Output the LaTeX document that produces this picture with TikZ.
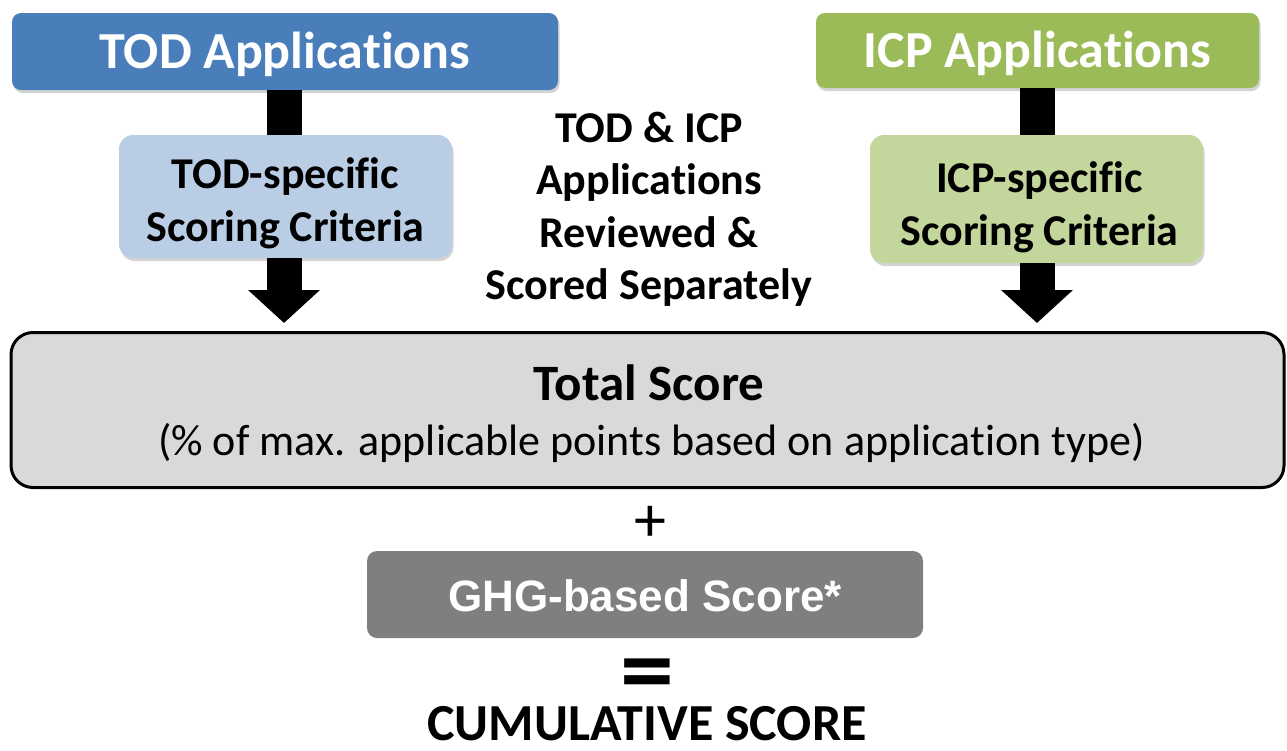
\documentclass[tikz,border=0pt]{standalone}
\usepackage{fontspec}
\setmainfont[Ligatures=NoCommon]{Carlito}
\newfontfamily\arialfont{Liberation Sans}
\usetikzlibrary{arrows.meta,shadows}
\definecolor{todblue}{HTML}{4A7EBB}
\definecolor{todlight}{HTML}{B9CDE5}
\definecolor{icpgreen}{HTML}{9BBB59}
\definecolor{icplight}{HTML}{C3D69B}
\definecolor{totalgray}{HTML}{D9D9D9}
\definecolor{ghggray}{HTML}{7F7F7F}
\tikzset{
  plain/.style={inner sep=0pt, outer sep=0pt},
  boxshadow/.style={drop shadow={shadow xshift=1.5pt, shadow yshift=-3pt, opacity=0.35}},
  hdrbox/.style={plain, boxshadow, rounded corners=9pt, text=white,
    font=\bfseries\fontsize{52}{56}\selectfont, text height=36pt, text depth=3pt},
  critbox/.style={plain, boxshadow, rounded corners=14pt, align=center,
    font=\bfseries\fontsize{44}{53}\selectfont},
  bar/.style={line width=35pt},
  bigarrow/.style={line width=35pt, -{Triangle[width=70pt,length=33pt]}}
}
\begin{document}
\begin{tikzpicture}[x=1pt,y=-1pt]
\useasboundingbox (0,0) rectangle (1287,750);
% header boxes
\node[hdrbox, fill=todblue, minimum width=546pt, minimum height=77pt] (tod) at (285,51.5) {TOD Applications};
\node[hdrbox, fill=icpgreen, minimum width=443pt, minimum height=75pt] (icp) at (1037.5,50.5) {ICP Applications};
% criteria boxes
\node[critbox, fill=todlight, minimum width=333pt, minimum height=123pt, text height=92pt, text depth=3pt] (todc) at (285.5,196.5) {TOD-specific\\Scoring Criteria};
\node[critbox, fill=icplight, minimum width=333pt, minimum height=128pt, text height=95pt, text depth=3pt] (icpc) at (1036.5,199) {\hspace*{6pt}ICP-specific\\\hspace*{6pt}Scoring Criteria};
% total box
\node[plain, draw=black, line width=3pt, fill=totalgray, rounded corners=22pt, minimum width=1273pt, minimum height=155pt] (total) at (647.5,410) {};
\node[plain, anchor=base, font=\bfseries\fontsize{51}{56}\selectfont] (tt) at (649,400) {Total Score};
\node[plain, anchor=base, font=\fontsize{44}{50}\selectfont] (ts) at (651.5,455) {(\% of max. applicable points based on application type)};
% middle text
\node[plain, font=\bfseries\fontsize{44}{52.5}\selectfont, align=center] (mid) at (649,209.5) {TOD \& ICP\\Applications\\Reviewed \&\\Scored Separately};
% bars and arrows
\coordinate (ta) at (284,323);
\coordinate (ia) at (1037,323);
\draw[bar] (tod.south -| ta) -- (todc.north -| ta);
\draw[bar] (icp.south -| ia) -- (icpc.north -| ia);
\draw[bigarrow] (todc.south -| ta) -- (ta);
\draw[bigarrow] (icpc.south -| ia) -- (ia);
% plus
\node[plain, font=\fontsize{64}{66}\selectfont] (plus) at (650,524) {+};
% GHG
\node[plain, fill=ghggray, rounded corners=10pt, minimum width=556pt, minimum height=87pt,
  text=white, font=\arialfont\bfseries\fontsize{44}{48}\selectfont, text height=36pt, text depth=3pt] (ghg) at (645,594.5) {GHG-based Score*};
% equals
\node[plain, font=\bfseries\fontsize{80}{84}\selectfont, text height=0pt, text depth=0pt] (eq) at (647,703) {\scalebox{1.35}[1.25]{=}};
% cumulative
\node[plain, anchor=base, font=\bfseries\fontsize{52}{56}\selectfont, text depth=0pt] (cum) at (647,740) {CUMULATIVE SCORE};
\end{tikzpicture}
\end{document}
